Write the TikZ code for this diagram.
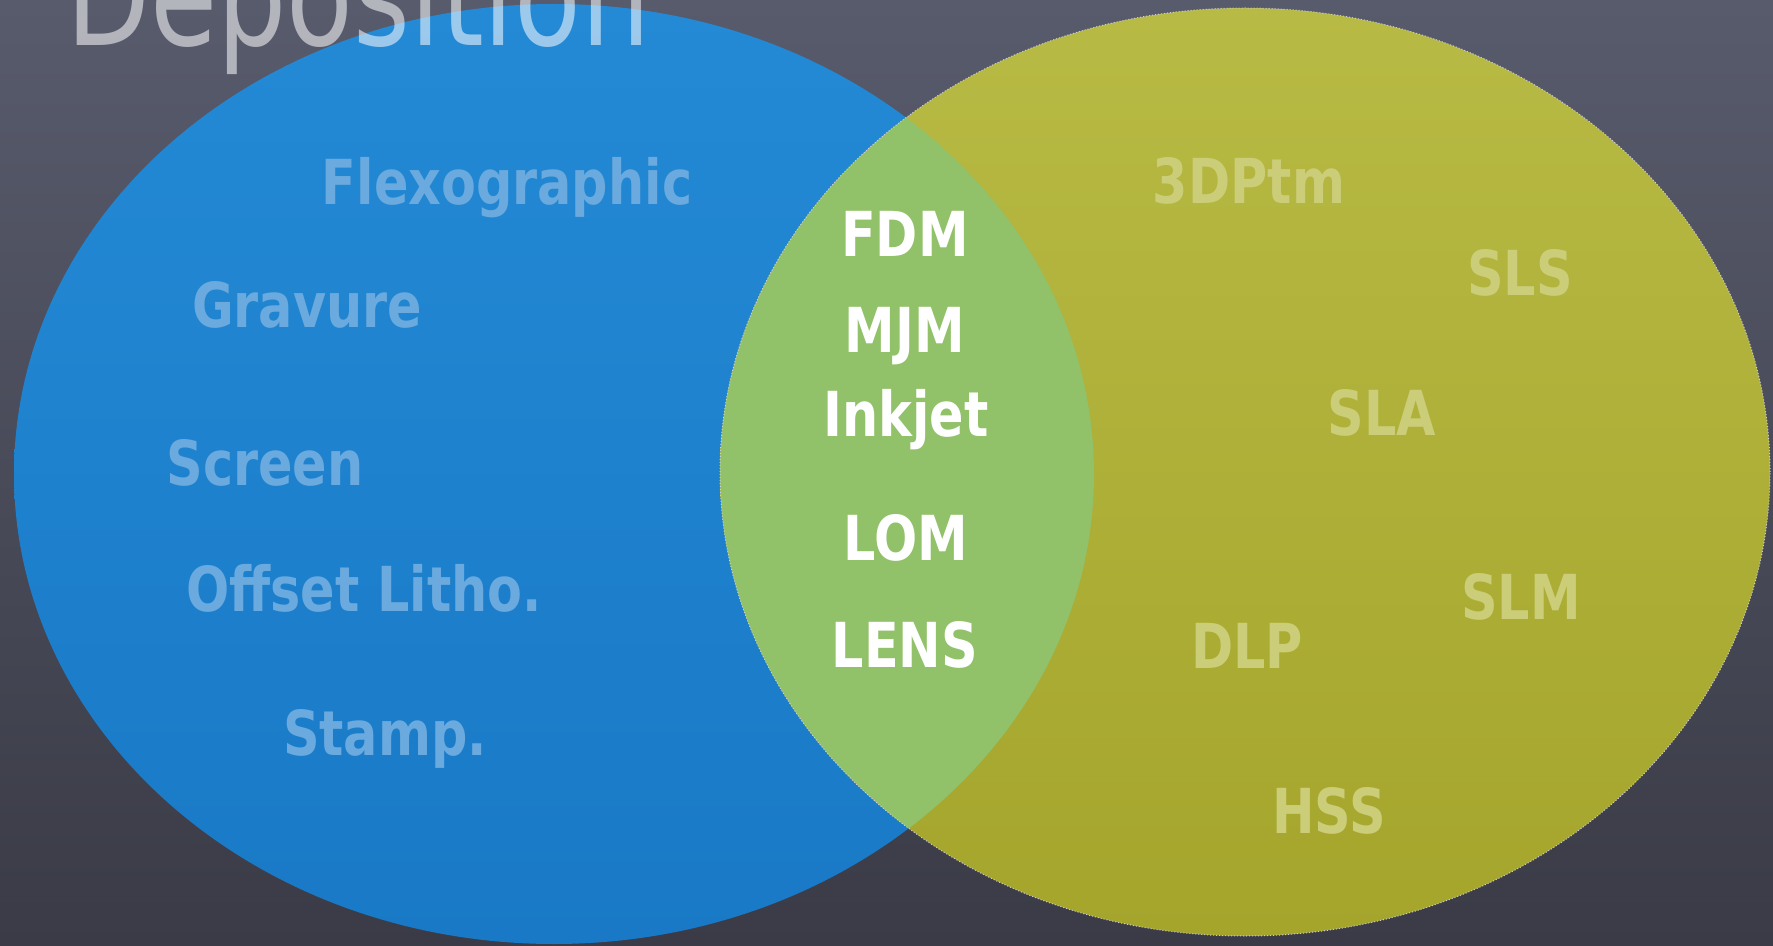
\documentclass[tikz,border=0pt]{standalone}
\usepackage{fontspec}
\newfontfamily\labfam{DejaVu Sans}[FakeStretch=0.82]
\newfontfamily\titlefam{DejaVu Sans}[FakeStretch=0.78]
\definecolor{bgtop}{RGB}{88,91,108}
\definecolor{bgbot}{RGB}{58,59,70}
\definecolor{bluetop}{RGB}{36,138,213}
\definecolor{bluebot}{RGB}{25,121,198}
\definecolor{yeltop}{RGB}{183,186,68}
\definecolor{yelbot}{RGB}{165,165,44}
\definecolor{overlap}{RGB}{145,193,105}
\definecolor{bluetext}{RGB}{106,170,222}
\definecolor{yeltext}{RGB}{204,205,120}
\definecolor{rimcol}{RGB}{205,205,215}
\tikzset{
  lab/.style={font=\labfam\bfseries\fontsize{31}{36}\selectfont, inner sep=0pt, anchor=base},
  bluelab/.style={lab, text=bluetext},
  yellab/.style={lab, text=yeltext},
  midlab/.style={lab, text=white},
}
\begin{document}
\begin{tikzpicture}[x=0.5pt,y=-0.5pt]
\useasboundingbox (0,0) rectangle (1773,946);
% background
\shade[top color=bgtop, bottom color=bgbot] (0,0) rectangle (1773,946);
% blue set
\shade[top color=bluetop, bottom color=bluebot] (554,474) ellipse [x radius=270pt, y radius=235pt];
% yellow set
\shade[top color=yeltop, bottom color=yelbot] (1245,472) ellipse [x radius=262.5pt, y radius=232pt];
% overlap
\begin{scope}
  \clip (554,474) ellipse [x radius=270pt, y radius=235pt];
  \fill[overlap] (1245,472) ellipse [x radius=262.5pt, y radius=232pt];
\end{scope}
\draw[rimcol, line width=0.5pt, densely dotted] (1245,472) ellipse [x radius=262.5pt, y radius=232pt];
% title
\node[font=\titlefam\fontsize{70}{76}\selectfont, text=white, text opacity=0.55, inner sep=0pt, anchor=base west] (title) at (66,46) {Deposition};
% blue labels
\node[bluelab] (flexo) at (507,205) {Flexographic};
\node[bluelab] (grav) at (307,328) {Gravure};
\node[bluelab] (screen) at (265,486) {Screen};
\node[bluelab] (offset) at (364,611) {Offset Litho.};
\node[bluelab] (stamp) at (385,755) {Stamp.};
% overlap labels
\node[midlab] (fdm) at (905,257) {FDM};
\node[midlab] (mjm) at (905,353) {MJM};
\node[midlab] (inkjet) at (906,437) {Inkjet};
\node[midlab] (lom) at (906,560) {LOM};
\node[midlab] (lens) at (905,667) {LENS};
% yellow labels
\node[yellab] (tdp) at (1249,204) {3DPtm};
\node[yellab] (sls) at (1520,296) {SLS};
\node[yellab] (sla) at (1382,436) {SLA};
\node[yellab] (slm) at (1521,619) {SLM};
\node[yellab] (dlp) at (1247,668) {DLP};
\node[yellab] (hss) at (1329,833) {HSS};
\end{tikzpicture}
\end{document}
